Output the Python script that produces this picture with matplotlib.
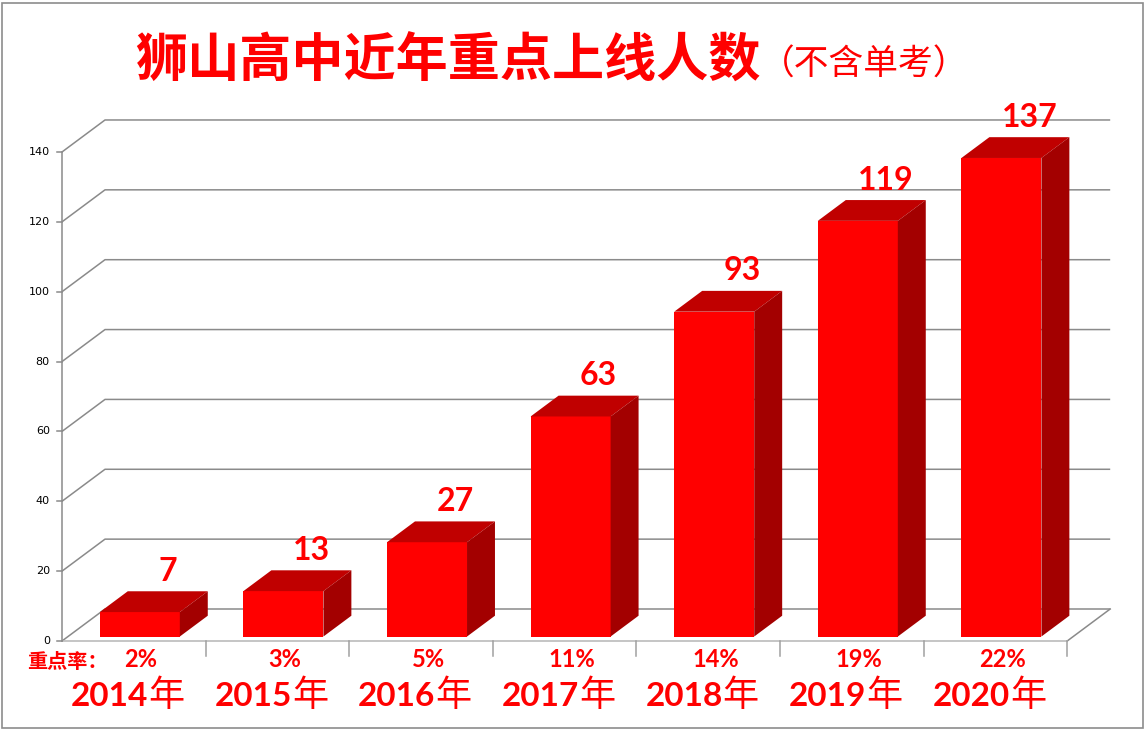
import matplotlib
matplotlib.use('Agg')
import matplotlib.pyplot as plt
from matplotlib.patches import Polygon, Rectangle

# data
years = ['2014', '2015', '2016', '2017', '2018', '2019', '2020']
counts = [7, 13, 27, 63, 93, 119, 137]
rates = ['2%', '3%', '5%', '11%', '14%', '19%', '22%']
yticks = [0, 20, 40, 60, 80, 100, 120, 140]

RED = '#FF0000'
TOP = '#C00000'
SIDE = '#A30000'
GRID = '#8A8A8A'

W, H = 1146, 730
fig = plt.figure(figsize=(W / 100, H / 100), dpi=100)
ax = fig.add_axes([0, 0, 1, 1])
ax.axis('off')

# pixel geometry of the plot (x0 = left of category axis, y0 = zero line)
x0_px, cat_px = 62, 143.6
y0_px, val_px = 641, 3.493
ax.set_xlim(-0.5 - x0_px / cat_px, -0.5 + (W - x0_px) / cat_px)
ax.set_ylim(-(H - y0_px) / val_px, y0_px / val_px)

n = len(years)
DX, DY = 43 / cat_px, 32 / val_px      # full depth offset
f0, f1 = 0.14, 0.79                    # bar front / back depth
bw = 80 / cat_px                       # bar width
left, right = -0.5, n - 0.5

# back wall, side wall and floor lines
for g in yticks:
    ax.plot([left, left + DX, right + DX], [g, g + DY, g + DY],
            color=GRID, lw=1.1, zorder=1, solid_capstyle='butt')
ax.plot([right, right + DX], [0, DY], color=GRID, lw=1.1, zorder=1)
ax.plot([left, right], [0, 0], color='#B5B5B5', lw=1.1, zorder=1)
ax.plot([left, left], [0, yticks[-1]], color=GRID, lw=1.1, zorder=1)
for g in yticks:
    ax.plot([left - 0.035, left], [g, g], color=GRID, lw=1.1, zorder=1)
    ax.text(left - 0.085, g, str(g), ha='right', va='center', fontsize=8,
            family='DejaVu Sans', color='black')
for k in range(1, n + 1):
    ax.plot([left + k, left + k], [0, -4.3], color='#A0A0A0', lw=1.1, zorder=1)

# 3d columns
for i, v in enumerate(counts):
    xl = i + f0 * DX - bw / 2
    xr = xl + bw
    yb = f0 * DY
    ddx, ddy = (f1 - f0) * DX, (f1 - f0) * DY
    front = [(xl, yb), (xr, yb), (xr, yb + v), (xl, yb + v)]
    top = [(xl, yb + v), (xr, yb + v), (xr + ddx, yb + v + ddy), (xl + ddx, yb + v + ddy)]
    side = [(xr, yb), (xr + ddx, yb + ddy), (xr + ddx, yb + v + ddy), (xr, yb + v)]
    ax.add_patch(Polygon(front, closed=True, fc=RED, ec='none', zorder=3))
    ax.add_patch(Polygon(top, closed=True, fc=TOP, ec='none', zorder=3))
    ax.add_patch(Polygon(side, closed=True, fc=SIDE, ec='none', zorder=3))
    ax.text(i + f1 * DX, v + f1 * DY + 3.0, str(v), ha='center', va='baseline',
            fontsize=23, fontweight='bold', family='Lato', color=RED, zorder=4)

# category labels: rate row and year row
for i in range(n):
    ax.text(i + 0.05, -7.5, rates[i], ha='center', va='baseline', fontsize=17,
            fontweight='bold', family='Lato', color=RED)
    ax.text(i + 0.1, -18.6, years[i], ha='right', va='baseline', fontsize=24,
            fontweight='bold', family='Lato', color=RED)
    ax.text(i + 0.1, -18.6, '年', ha='left', va='baseline', fontsize=26,
            family='Noto Sans CJK SC', color=RED)
ax.text(left + (27 - x0_px) / cat_px, -7.8, '重点率：', ha='left', va='baseline',
        fontsize=14.5, fontweight='bold', family='Noto Sans CJK SC', color=RED)

# title
fig.text(135 / W, 1 - 77 / H, '狮山高中近年重点上线人数', ha='left', va='baseline',
         fontsize=37.5, fontweight='heavy', family='Noto Sans CJK SC', color=RED)
fig.text(760 / W, 1 - 75 / H, '（不含单考）', ha='left', va='baseline',
         fontsize=25, family='Noto Sans CJK SC', color=RED)

# chart border
fig.patches.append(Rectangle((2 / W, 2 / H), 1141 / W, 725 / H, transform=fig.transFigure,
                             fill=False, ec='#8C8C8C', lw=1.2))

fig.savefig('out.png', dpi=100, facecolor='white')
